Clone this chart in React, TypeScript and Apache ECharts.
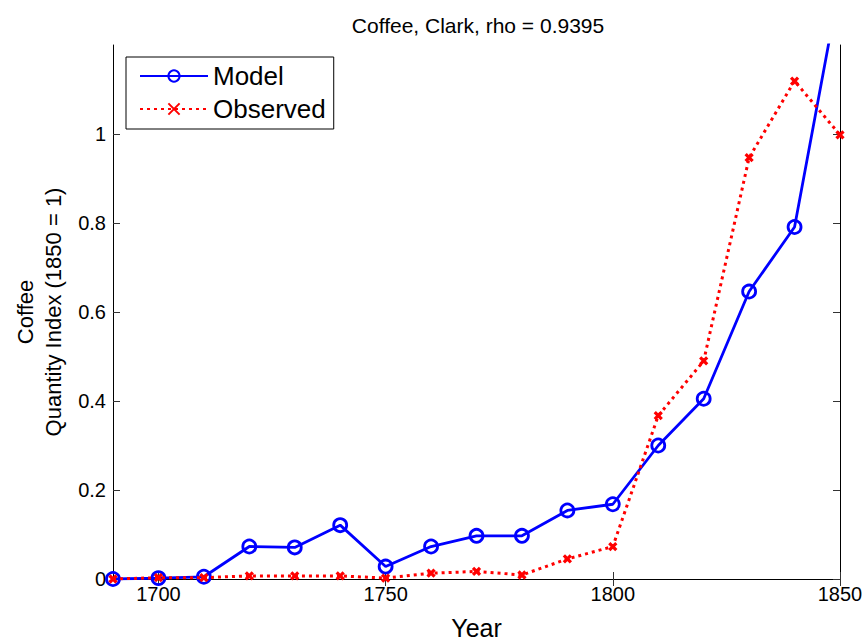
import React, { useEffect, useRef } from "react";
import * as echarts from "echarts";

const years = [1690, 1700, 1710, 1720, 1730, 1740, 1750, 1760, 1770, 1780, 1790, 1800, 1810, 1820, 1830, 1840, 1850];
const modelValues = [0, 0.002, 0.005, 0.073, 0.071, 0.121, 0.028, 0.073, 0.097, 0.097, 0.154, 0.168, 0.3, 0.405, 0.646, 0.791, 1.34];
const observedValues = [0, 0.003, 0.003, 0.007, 0.007, 0.007, 0.002, 0.013, 0.017, 0.009, 0.045, 0.073, 0.367, 0.49, 0.947, 1.119, 0.998];
const xTicks = [1700, 1750, 1800, 1850];
const yTicks = [0, 0.2, 0.4, 0.6, 0.8, 1];

const FONT = "'Liberation Sans', Arial, Helvetica, sans-serif";

export default function App() {
  const ref = useRef<HTMLDivElement>(null);
  useEffect(() => {
    if (!ref.current) return;
    const chart = echarts.init(ref.current, null, { renderer: "svg" });
    const axisLine = { show: true, lineStyle: { color: "#000", width: 1 } };
    const tickStyle = { color: "#333", width: 1 };
    const yFmt = (v: number) => (Math.abs(v) < 1e-9 ? "0" : String(Math.round(v * 10) / 10));
    const xFmt = (v: number) => String(Math.round(v));
    chart.setOption({
      animation: false,
      backgroundColor: "#fff",
      title: {
        text: "Coffee, Clark, rho = 0.9395",
        left: 473,
        textAlign: "center",
        top: 10,
        textStyle: { fontFamily: FONT, fontSize: 21, fontWeight: "normal", color: "#000" },
      },
      grid: { left: 113, right: 22, top: 45, bottom: 61, containLabel: false, outerBoundsMode: "none" },
      legend: {
        orient: "vertical",
        left: 126,
        top: 57,
        padding: [6, 8, 7, 13],
        itemGap: 7,
        itemWidth: 68,
        itemHeight: 14,
        backgroundColor: "#fff",
        borderColor: "#000",
        borderWidth: 1,
        borderRadius: 0,
        textStyle: { fontFamily: FONT, fontSize: 26, color: "#000", padding: [0, 0, 0, 0] },
        data: ["Model", "Observed"],
      },
      xAxis: [
        {
          type: "value",
          min: 1690,
          max: 1850,
          position: "bottom",
          name: "Year",
          nameLocation: "middle",
          nameGap: 36,
          nameTextStyle: { fontFamily: FONT, fontSize: 25, color: "#000" },
          axisLine,
          axisTick: { show: true, inside: true, length: 7, customValues: xTicks, lineStyle: tickStyle },
          axisLabel: { customValues: xTicks, formatter: xFmt, fontFamily: FONT, fontSize: 20, color: "#000", margin: 5 },
          splitLine: { show: false },
        },
        {
          type: "value",
          min: 1690,
          max: 1850,
          position: "top",
          axisLine,
          axisTick: { show: true, inside: true, length: 7, customValues: xTicks, lineStyle: tickStyle },
          axisLabel: { show: false },
          splitLine: { show: false },
        },
      ],
      yAxis: [
        {
          type: "value",
          min: 0,
          max: 1.2,
          position: "left",
          name: "Coffee\nQuantity Index (1850 = 1)",
          nameLocation: "middle",
          nameGap: 46,
          nameRotate: 90,
          nameTextStyle: { fontFamily: FONT, fontSize: 22, color: "#000", lineHeight: 28, align: "center" },
          axisLine,
          axisTick: { show: true, inside: true, length: 7, customValues: yTicks, lineStyle: tickStyle },
          axisLabel: { customValues: yTicks, formatter: yFmt, fontFamily: FONT, fontSize: 20, color: "#000", margin: 7 },
          splitLine: { show: false },
        },
        {
          type: "value",
          min: 0,
          max: 1.2,
          position: "right",
          axisLine,
          axisTick: { show: true, inside: true, length: 7, customValues: yTicks, lineStyle: tickStyle },
          axisLabel: { show: false },
          splitLine: { show: false },
        },
      ],
      series: [
        {
          name: "Model",
          type: "line",
          xAxisIndex: 0,
          yAxisIndex: 0,
          data: years.map((y, i) => [y, modelValues[i]]),
          clip: true,
          symbol: "circle",
          symbolSize: 13,
          showAllSymbol: true,
          lineStyle: { color: "#0000ff", width: 2.8 },
          itemStyle: { color: "rgba(255,255,255,0)", borderColor: "#0000ff", borderWidth: 2.8 },
          emphasis: { disabled: true },
          z: 2,
        },
        {
          name: "Observed",
          type: "line",
          xAxisIndex: 0,
          yAxisIndex: 0,
          data: years.map((y, i) => [y, observedValues[i]]),
          clip: true,
          symbol: "path://M0,0L10,10M10,0L0,10",
          symbolSize: 7,
          showAllSymbol: true,
          lineStyle: { color: "#ff0000", width: 3, type: [3, 4] },
          itemStyle: { color: "rgba(255,0,0,0)", borderColor: "#ff0000", borderWidth: 3.2 },
          emphasis: { disabled: true },
          z: 3,
        },
      ],
    });
    return () => chart.dispose();
  }, []);
  return <div ref={ref} style={{ width: 862, height: 640, position: "absolute", left: 0, top: 0 }} />;
}
